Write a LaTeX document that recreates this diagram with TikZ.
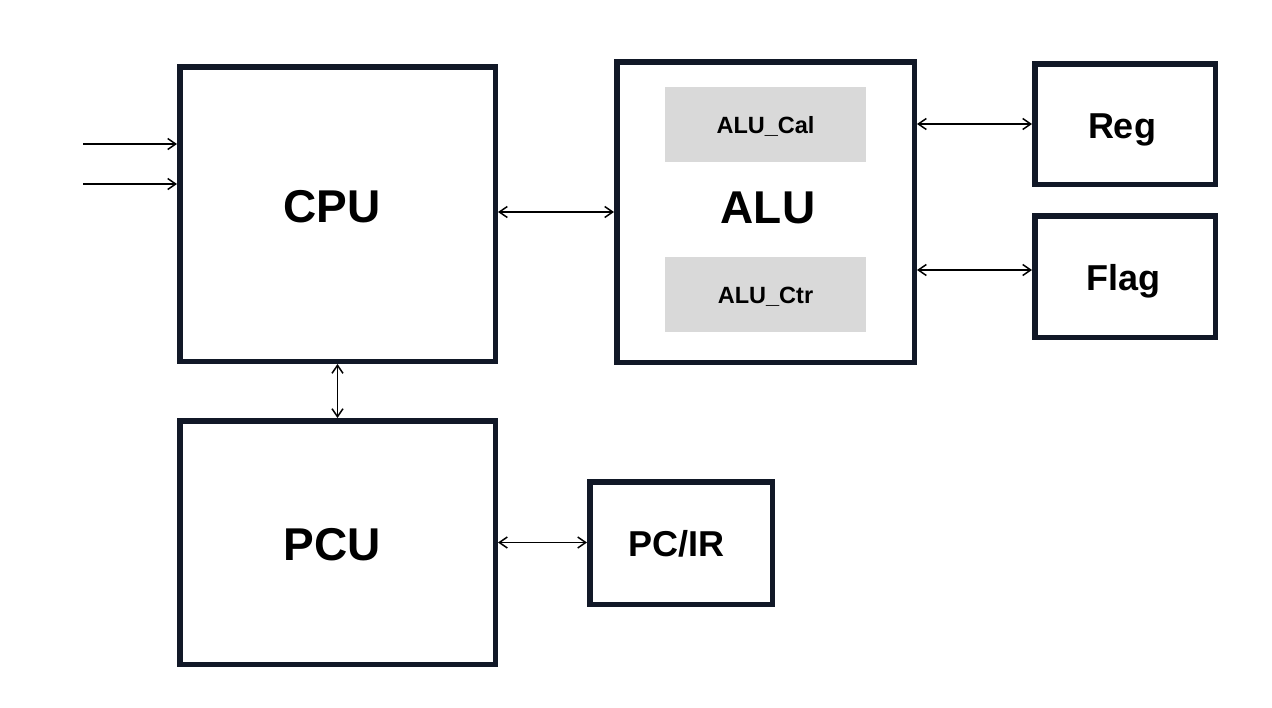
\documentclass[tikz,border=0pt]{standalone}
\usepackage{fontspec}
\setmainfont{Liberation Sans}
\usetikzlibrary{arrows.meta,calc}

\definecolor{edge}{HTML}{111827}
\definecolor{sub}{HTML}{D9D9D9}

\begin{document}
\begin{tikzpicture}
  [
    x=1pt, y=-1pt,
    block/.style =
      {draw=edge, line width=5.5pt, rectangle, inner sep=0pt},
    inner/.style =
      {fill=sub, rectangle, inner sep=0pt, minimum width=201pt, minimum height=75pt},
    big/.style   = {anchor=base, inner sep=0pt, font=\bfseries\fontsize{46}{50}\selectfont},
    mid/.style   = {anchor=base, inner sep=0pt, font=\bfseries\fontsize{36}{40}\selectfont},
    small/.style = {anchor=base, inner sep=0pt, font=\bfseries\fontsize{23.5}{26}\selectfont},
    link/.style  = {line width=1.5pt, >={Straight Barb[length=8pt,width=11pt]}}
  ]
  \useasboundingbox (0,0) rectangle (1272,707);

  \node [block, minimum width=315.5pt, minimum height=294.5pt] at ( 337.5,214)   (cpu)  {};
  \node [block, minimum width=297.5pt, minimum height=300.5pt] at ( 765.5,212)   (alu)  {};
  \node [block, minimum width=180.5pt, minimum height=120.5pt] at (1125  ,124)   (reg)  {};
  \node [block, minimum width=180.5pt, minimum height=121.5pt] at (1125  ,276.5) (flag) {};
  \node [block, minimum width=315.5pt, minimum height=243.5pt] at ( 337.5,542.5) (pcu)  {};
  \node [block, minimum width=182.5pt, minimum height=122.5pt] at ( 681  ,543)   (pcir) {};
  \node [inner] at (765.5,124.5) (cal) {};
  \node [inner] at (765.5,294.5) (ctr) {};

  \node [big]   at ( 332  ,222) (cpu-t)  {CPU};
  \node [big]   at ( 768  ,223) (alu-t)  {ALU};
  \node [big]   at ( 332  ,560) (pcu-t)  {PCU};
  \node [mid]   at (1122  ,138) (reg-t)  {Reg};
  \node [mid]   at (1123.5,290) (flag-t) {Flag};
  \node [mid]   at ( 676  ,556) (pcir-t) {PC/IR};
  \node [small] at ( 765.5,133) (cal-t)  {ALU\_Cal};
  \node [small] at ( 765.5,303) (ctr-t)  {ALU\_Ctr};

  \coordinate (in1) at (83,144);
  \coordinate (in2) at (83,184);
  \coordinate (fl)  at (0,270);

  \draw[link, ->]  (in1)                -- (in1 -| cpu.west);
  \draw[link, ->]  (in2)                -- (in2 -| cpu.west);
  \draw[link, <->] (cpu.east |- alu.west) -- (alu.west);
  \draw[link, <->] (alu.east |- reg.west) -- (reg.west);
  \draw[link, <->] (alu.east |- fl)     -- (flag.west |- fl);
  \draw[link, <->] (cpu.south)          -- (pcu.north);
  \draw[link, <->] (pcu.east)           -- (pcu.east -| pcir.west);
\end{tikzpicture}
\end{document}
